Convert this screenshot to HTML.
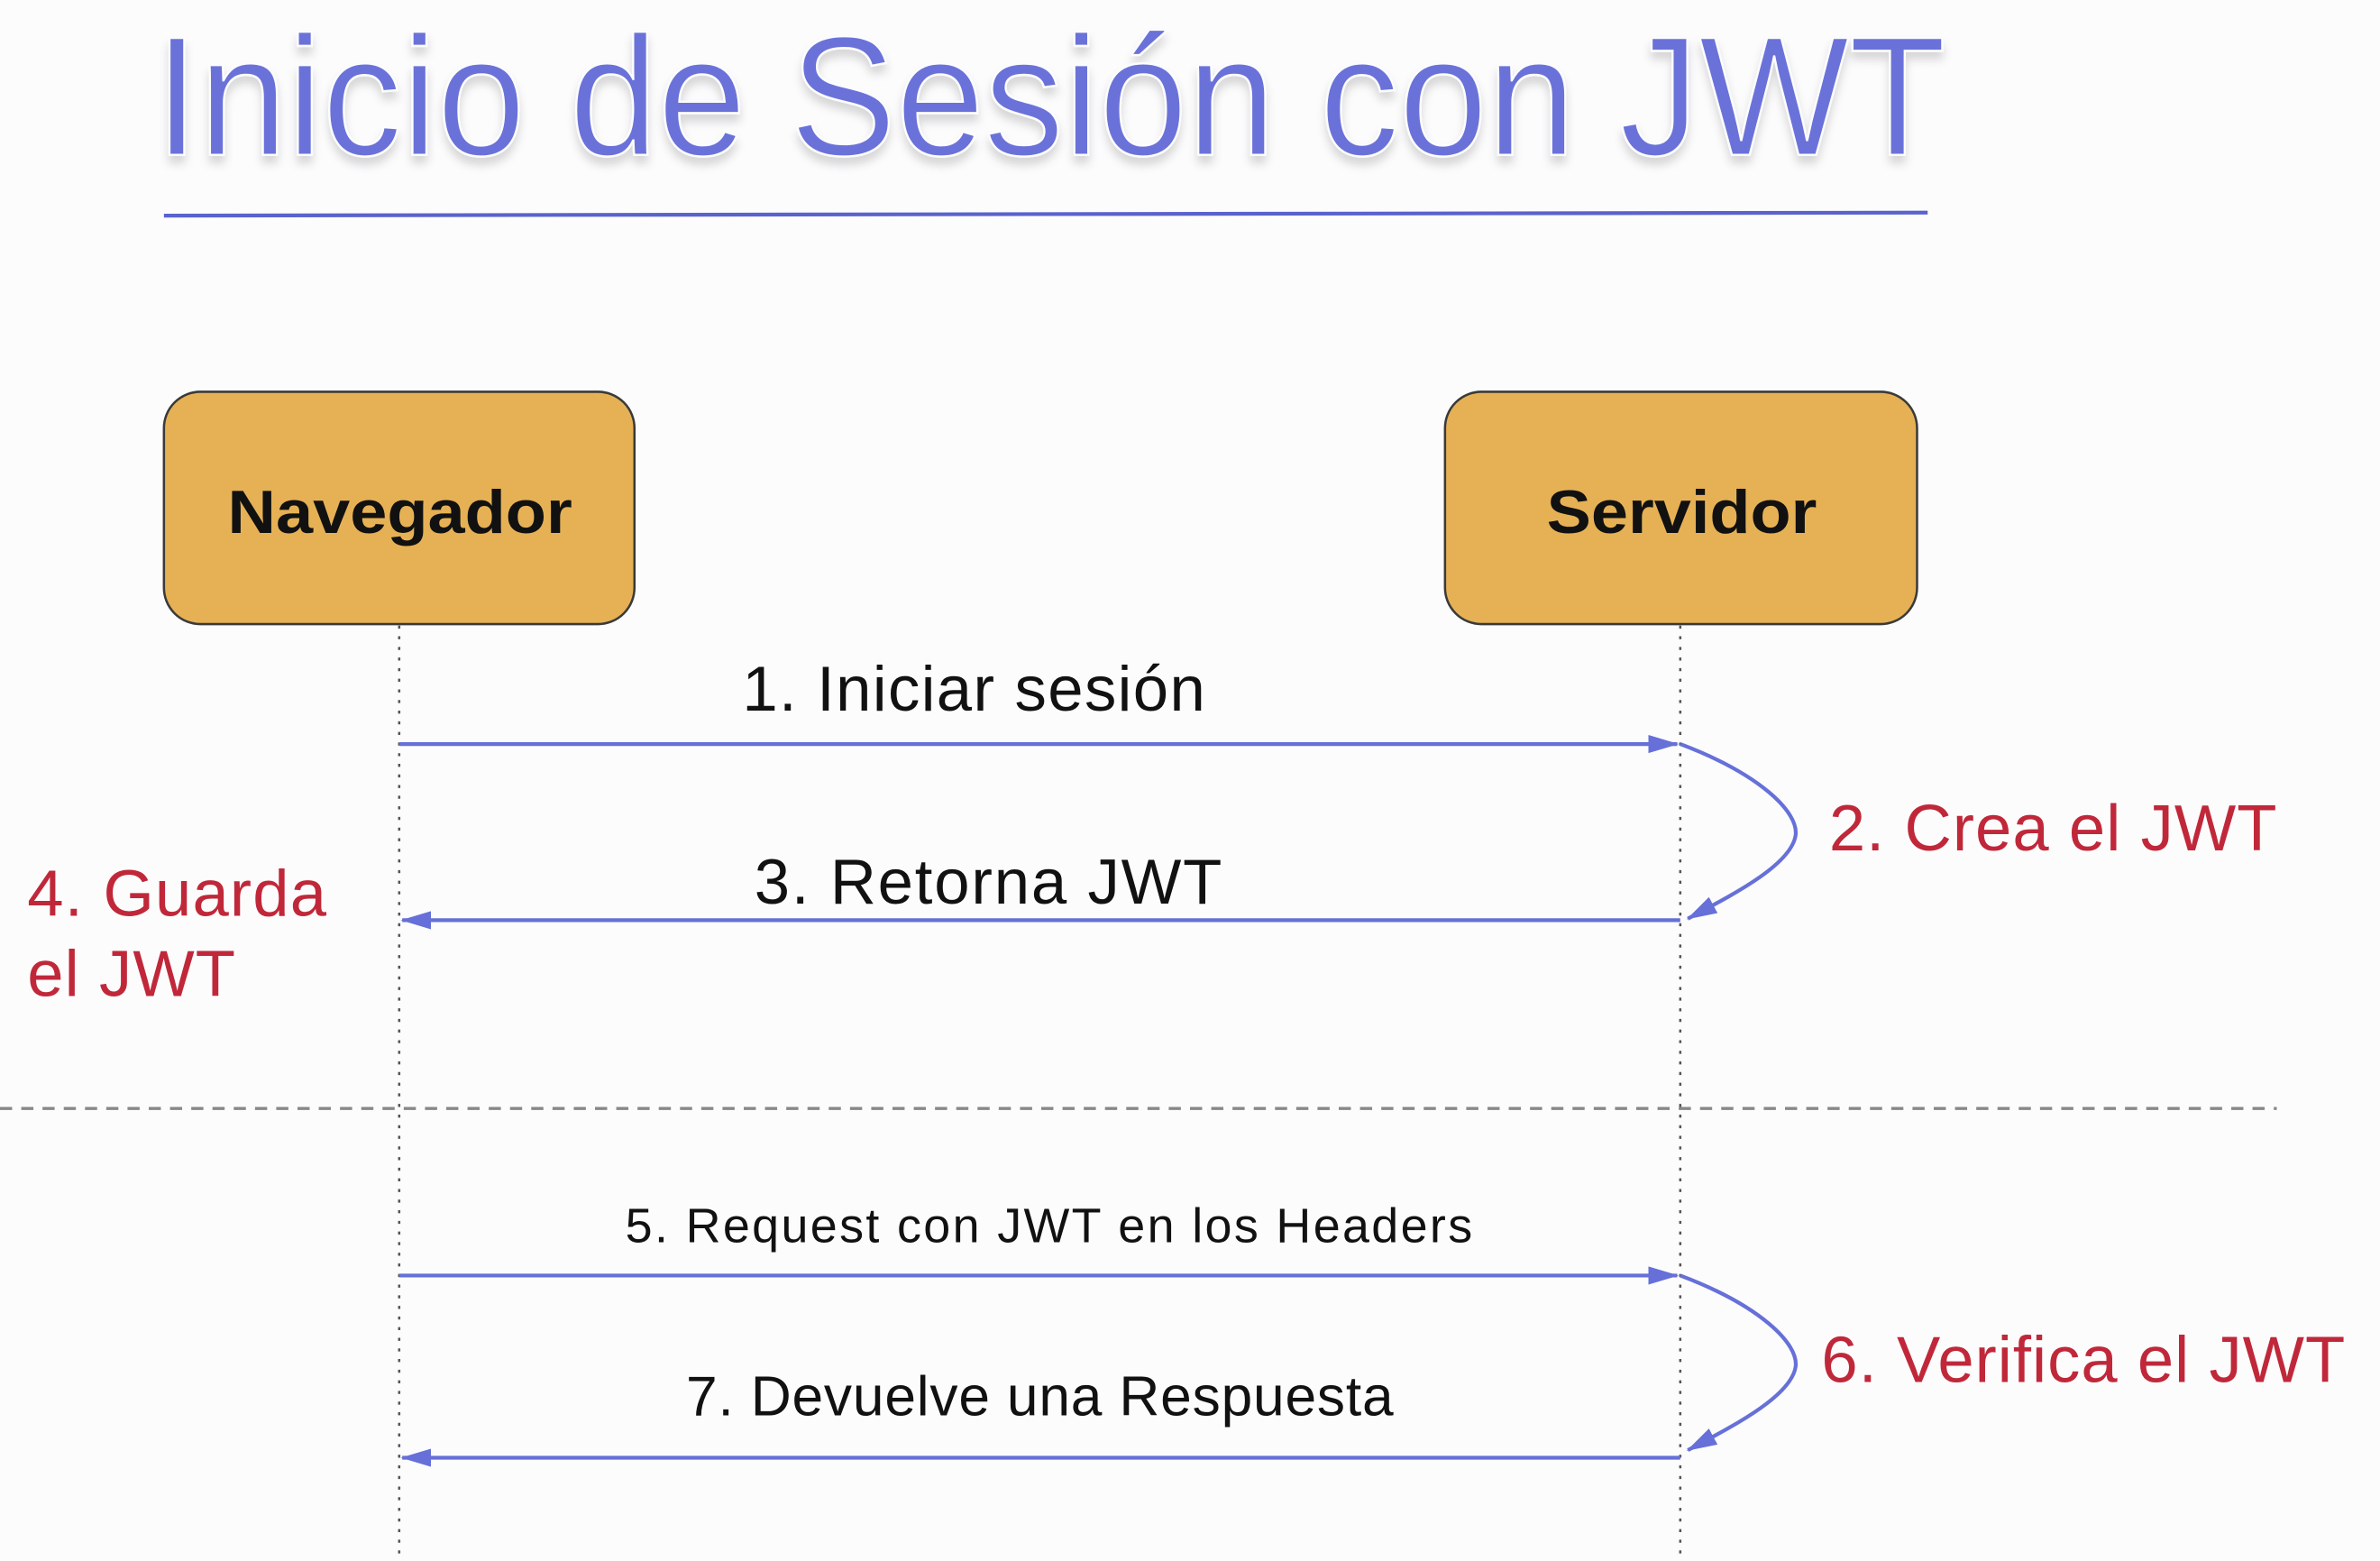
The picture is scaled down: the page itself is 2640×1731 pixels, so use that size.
<!DOCTYPE html>
<html><head><meta charset="utf-8"><style>
html,body{margin:0;padding:0;background:#fdfdfe;}
svg{display:block;}
</style></head><body>
<svg width="2640" height="1731" viewBox="0 0 1568 1028" preserveAspectRatio="none" xmlns="http://www.w3.org/2000/svg" font-family="Liberation Sans, Arial, sans-serif">
<defs>
<marker id="ah" markerWidth="20" markerHeight="14" refX="19" refY="7" orient="auto" markerUnits="userSpaceOnUse"><path d="M0,1 L20,7 L0,13 z" fill="#6670d8"/></marker>
<filter id="sh"><feDropShadow dx="0" dy="5" stdDeviation="3" flood-color="#000" flood-opacity="0.15"/></filter>
</defs>
<rect width="1568" height="1028" fill="#fcfcfd"/>
<text x="102" y="102" font-size="112" fill="#6a72d9" textLength="1180" lengthAdjust="spacingAndGlyphs" filter="url(#sh)" stroke="#fcfcfd" stroke-width="1.5">Inicio de Sesión con JWT</text>
<line x1="108" y1="142" x2="1270" y2="140" stroke="#5a62cc" stroke-width="2.5"/>
<rect x="108" y="258" width="310" height="153" rx="24" fill="#e6b155" stroke="#3a3a3a" stroke-width="1.5"/>
<rect x="952" y="258" width="311" height="153" rx="24" fill="#e6b155" stroke="#3a3a3a" stroke-width="1.5"/>
<text x="150" y="351" font-size="40" font-weight="bold" fill="#111" textLength="227" lengthAdjust="spacingAndGlyphs">Navegador</text>
<text x="1019" y="351" font-size="40" font-weight="bold" fill="#111" textLength="178" lengthAdjust="spacingAndGlyphs">Servidor</text>
<line x1="263" y1="412" x2="263" y2="1028" stroke="#555" stroke-width="1.5" stroke-dasharray="2,5"/>
<line x1="1107" y1="412" x2="1107" y2="1028" stroke="#555" stroke-width="1.5" stroke-dasharray="2,5"/>
<line x1="0" y1="730" x2="1500" y2="730" stroke="#888" stroke-width="2" stroke-dasharray="8,6"/>
<g stroke="#6670d8" stroke-width="2.5" fill="none">
<line x1="263" y1="490" x2="1105" y2="490" marker-end="url(#ah)"/>
<path d="M1107,490 C1160,510 1185,535 1183,550 C1180,570 1140,590 1112,605" marker-end="url(#ah)"/>
<line x1="1107" y1="606" x2="265" y2="606" marker-end="url(#ah)"/>
<line x1="263" y1="840" x2="1105" y2="840" marker-end="url(#ah)"/>
<path d="M1107,840 C1160,860 1185,885 1183,900 C1180,920 1140,940 1112,955" marker-end="url(#ah)"/>
<line x1="1107" y1="960" x2="265" y2="960" marker-end="url(#ah)"/>
</g>
<g fill="#111" lengthAdjust="spacingAndGlyphs">
<text x="489" y="468" font-size="42" textLength="305">1. Iniciar sesión</text>
<text x="497" y="595" font-size="42" textLength="308">3. Retorna JWT</text>
<text x="412" y="818" font-size="32" textLength="558">5. Request con JWT en los Headers</text>
<text x="452" y="932" font-size="37" textLength="466">7. Devuelve una Respuesta</text>
</g>
<g fill="#c0283a" font-size="43">
<text x="1205" y="560" textLength="295">2. Crea el JWT</text>
<text x="18" y="603" textLength="197">4. Guarda</text>
<text x="18" y="656" textLength="137">el JWT</text>
<text x="1200" y="910" textLength="345">6. Verifica el JWT</text>
</g>
</svg>
</body></html>
